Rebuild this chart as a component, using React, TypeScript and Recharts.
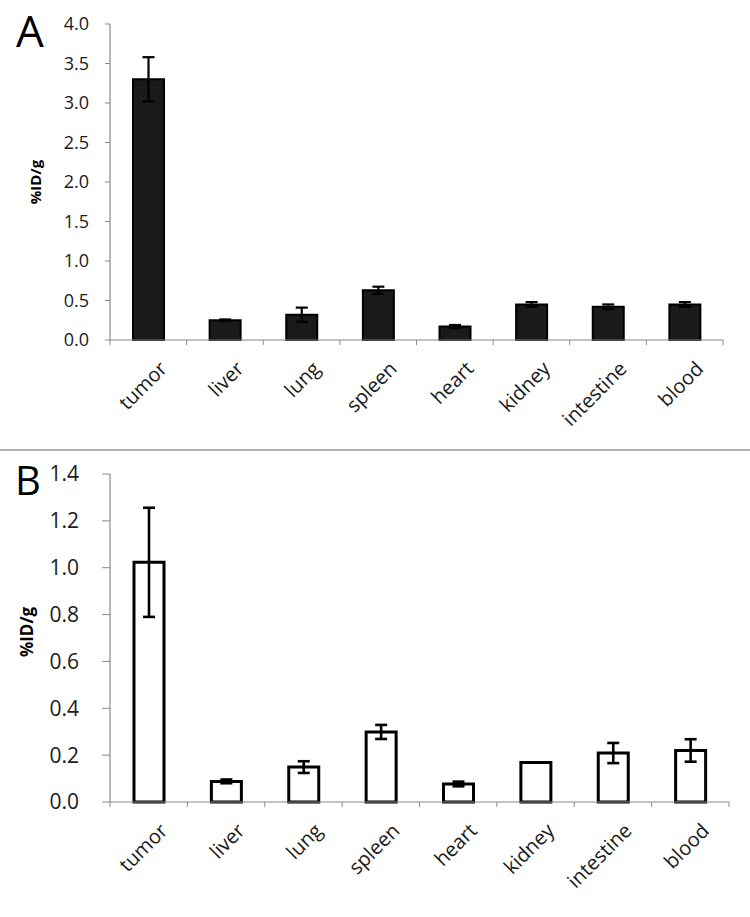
import React from 'react';
import { BarChart, Bar, XAxis, YAxis, ErrorBar } from 'recharts';

// biodistribution, %ID/g
const organs = ['tumor', 'liver', 'lung', 'spleen', 'heart', 'kidney', 'intestine', 'blood'];

const uptakeA = [3.3, 0.25, 0.32, 0.63, 0.17, 0.45, 0.42, 0.45];
const errorA = [0.28, 0.01, 0.09, 0.045, 0.02, 0.03, 0.03, 0.03];
const ticksA = [0, 0.5, 1.0, 1.5, 2.0, 2.5, 3.0, 3.5, 4.0];

const uptakeB = [1.023, 0.088, 0.149, 0.299, 0.077, 0.169, 0.209, 0.22];
const errorB = [0.233, 0.008, 0.025, 0.03, 0.01, 0, 0.043, 0.048];
const ticksB = [0, 0.2, 0.4, 0.6, 0.8, 1.0, 1.2, 1.4];

const FONT = '"Open Sans", sans-serif';
const AXIS_GREY = '#8a8a8a';

// category label rotated 45deg, plus the small tick marks between categories
const renderOrganTick = (band: number, fontSize: number) => (props: any) => {
  const { x, y, payload, index } = props;
  const ax = x + 20;
  const ay = y + 30;
  const last = index === organs.length - 1;
  return (
    <g>
      <line x1={x - band / 2} y1={y} x2={x - band / 2} y2={y + 5} stroke={AXIS_GREY} strokeWidth={1} />
      {last && <line x1={x + band / 2} y1={y} x2={x + band / 2} y2={y + 5} stroke={AXIS_GREY} strokeWidth={1} />}
      <text
        x={ax}
        y={ay}
        textAnchor="end"
        transform={`rotate(-45, ${ax}, ${ay})`}
        fontFamily={FONT}
        fontSize={fontSize}
        fill="#1a1a1a"
      >
        {payload.value}
      </text>
    </g>
  );
};

interface PanelProps {
  values: number[];
  errors: number[];
  ticks: number[];
  height: number;
  margin: { top: number; right: number; left: number; bottom: number };
  fill: string;
  strokeWidth: number;
  barSize: number;
  tickSize: number;
  tickMargin: number;
  tickFont: number;
  labelFont: number;
  capStroke: number;
}

const Panel = ({
  values,
  errors,
  ticks,
  height,
  margin,
  fill,
  strokeWidth,
  barSize,
  tickSize,
  tickMargin,
  tickFont,
  labelFont,
  capStroke
}: PanelProps) => {
  const data = organs.map((organ, i) => ({ organ, value: values[i], err: errors[i] }));
  const band = (750 - margin.left - margin.right - 60) / organs.length;

  return (
    <BarChart width={750} height={height} data={data} margin={margin} barSize={barSize}>
      <XAxis
        dataKey="organ"
        height={80}
        interval={0}
        tickLine={false}
        tickSize={0}
        tickMargin={0}
        axisLine={{ stroke: AXIS_GREY, strokeWidth: 1.2 }}
        tick={renderOrganTick(band, labelFont)}
      />
      <YAxis
        width={60}
        domain={[ticks[0], ticks[ticks.length - 1]]}
        ticks={ticks}
        interval={0}
        tickFormatter={(v: number) => v.toFixed(1)}
        tickSize={tickSize}
        tickMargin={tickMargin}
        tickLine={{ stroke: AXIS_GREY }}
        axisLine={{ stroke: AXIS_GREY, strokeWidth: 1.2 }}
        tick={{ fill: '#1a1a1a', fontSize: tickFont, fontFamily: FONT }}
      />
      <Bar dataKey="value" fill={fill} stroke="#000" strokeWidth={strokeWidth} isAnimationActive={false}>
        <ErrorBar dataKey="err" width={6} stroke="#000" strokeWidth={capStroke} direction="y" isAnimationActive={false} />
      </Bar>
    </BarChart>
  );
};

export default function App() {
  return (
    <div style={{ position: 'absolute', left: 0, top: 0, width: 750, height: 917, background: '#fff', overflow: 'hidden' }}>
      <div style={{ position: 'absolute', left: 0, top: 0 }}>
        <Panel
          values={uptakeA}
          errors={errorA}
          ticks={ticksA}
          height={440}
          margin={{ top: 24, right: 27, left: 50, bottom: 20 }}
          fill="#1a1a1a"
          strokeWidth={2}
          barSize={31}
          tickSize={5}
          tickMargin={16}
          tickFont={18}
          labelFont={20}
          capStroke={2.2}
        />
      </div>
      <div style={{ position: 'absolute', left: 0, top: 450 }}>
        <Panel
          values={uptakeB}
          errors={errorB}
          ticks={ticksB}
          height={467}
          margin={{ top: 24, right: 21, left: 50, bottom: 35 }}
          fill="#fff"
          strokeWidth={3}
          barSize={30}
          tickSize={8}
          tickMargin={23}
          tickFont={21}
          labelFont={20}
          capStroke={2.6}
        />
      </div>
      <svg width={750} height={917} style={{ position: 'absolute', left: 0, top: 0, pointerEvents: 'none' }}>
        <line x1={0} y1={450} x2={750} y2={450} stroke="#9a9a9a" strokeWidth={1.5} />
        <text x={16} y={47} fontFamily={FONT} fontSize={44} fill="#000">A</text>
        <text x={15} y={495} fontFamily={FONT} fontSize={40} fill="#000">B</text>
        <text
          x={35}
          y={182}
          transform="rotate(-90, 35, 182)"
          textAnchor="middle"
          dominantBaseline="central"
          fontFamily={FONT}
          fontWeight="bold"
          fontSize={15}
          fill="#000"
        >
          %ID/g
        </text>
        <text
          x={26}
          y={632}
          transform="rotate(-90, 26, 632)"
          textAnchor="middle"
          dominantBaseline="central"
          fontFamily={FONT}
          fontWeight="bold"
          fontSize={17}
          fill="#000"
        >
          %ID/g
        </text>
      </svg>
    </div>
  );
}
